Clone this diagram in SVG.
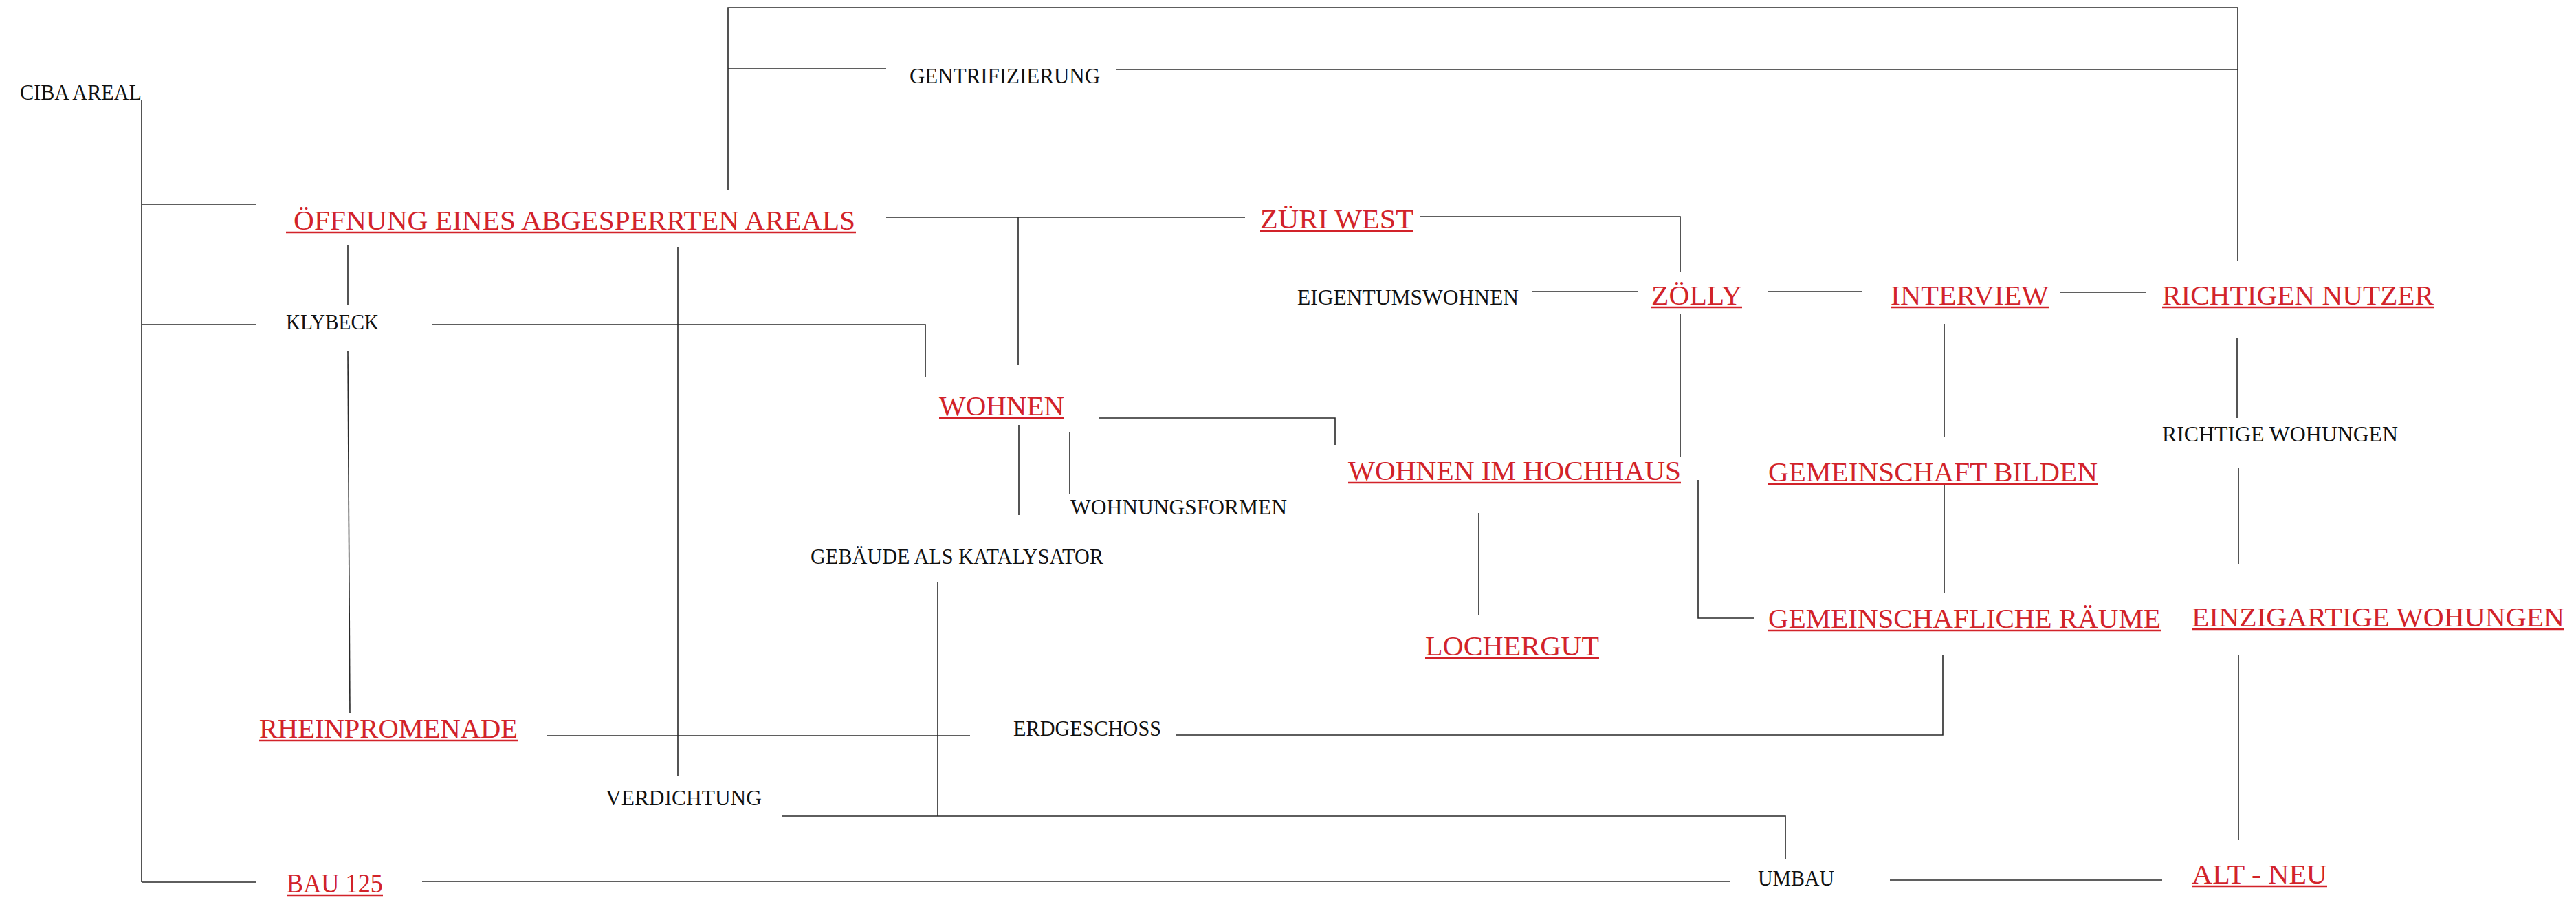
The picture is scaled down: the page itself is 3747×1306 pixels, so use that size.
<svg xmlns="http://www.w3.org/2000/svg" width="3747" height="1306" viewBox="0 0 3747 1306">
<style>
  text { font-family: "Liberation Serif", "Times New Roman", serif; }
  .b { font-size: 32px; fill: #111; }
  .r { font-size: 41px; fill: #d2232a; }
  .ul { stroke: #d2232a; stroke-width: 2.5; fill: none; }
  #connectors path { stroke: #2a2a2a; stroke-width: 1.6; fill: none; }
</style>
<rect x="0" y="0" width="3747" height="1306" fill="#ffffff"/>
<g id="connectors">
  <path d="M206 145 V1283 M206 297 H373 M206 472 H373 M206 1283 H373"/>
  <path d="M506 356 V443"/>
  <path d="M506 510 L509 1037"/>
  <path d="M986 359 V1128"/>
  <path d="M1059 277 V11 H3255 V380"/>
  <path d="M1059 100 H1289"/>
  <path d="M1624 101 H3255"/>
  <path d="M1289 316 H1811 M1481 316 V531"/>
  <path d="M2065 315 H2444 V395"/>
  <path d="M2228 424 H2383"/>
  <path d="M2572 424 H2708"/>
  <path d="M2996 425 H3122"/>
  <path d="M628 472 H1346 V548"/>
  <path d="M1482 618 V749"/>
  <path d="M1556 628 V718"/>
  <path d="M1598 608 H1942 V647"/>
  <path d="M2444 456 V664"/>
  <path d="M2470 698 V899 H2551"/>
  <path d="M2151 746 V894"/>
  <path d="M2828 471 V636"/>
  <path d="M2828 705 V862"/>
  <path d="M3254 491 V608"/>
  <path d="M3256 680 V820"/>
  <path d="M3256 953 V1221"/>
  <path d="M2826 953 V1069 H1710"/>
  <path d="M796 1070 H1411"/>
  <path d="M1364 847 V1187"/>
  <path d="M1138 1187 H2597 V1249"/>
  <path d="M614 1282 H2516"/>
  <path d="M2749 1280 H3145"/>
</g>
<g id="n-ciba"><text class="b" x="29" y="145" textLength="177" lengthAdjust="spacingAndGlyphs">CIBA AREAL</text></g>
<g id="n-gentrifizierung"><text class="b" x="1323" y="121" textLength="277" lengthAdjust="spacingAndGlyphs">GENTRIFIZIERUNG</text></g>
<g id="n-oeffnung"><text class="r" x="427" y="334" textLength="817" lengthAdjust="spacingAndGlyphs">ÖFFNUNG EINES ABGESPERRTEN AREALS</text><line class="ul" x1="416" y1="338" x2="1245" y2="338"/></g>
<g id="n-klybeck"><text class="b" x="416" y="479" textLength="135" lengthAdjust="spacingAndGlyphs">KLYBECK</text></g>
<g id="n-zuriwest"><text class="r" x="1833" y="332" textLength="223" lengthAdjust="spacingAndGlyphs">ZÜRI WEST</text><line class="ul" x1="1833" y1="336" x2="2056" y2="336"/></g>
<g id="n-eigentum"><text class="b" x="1887" y="443" textLength="322" lengthAdjust="spacingAndGlyphs">EIGENTUMSWOHNEN</text></g>
<g id="n-zolly"><text class="r" x="2402" y="443" textLength="132" lengthAdjust="spacingAndGlyphs">ZÖLLY</text><line class="ul" x1="2402" y1="447" x2="2534" y2="447"/></g>
<g id="n-interview"><text class="r" x="2750" y="443" textLength="230" lengthAdjust="spacingAndGlyphs">INTERVIEW</text><line class="ul" x1="2750" y1="447" x2="2980" y2="447"/></g>
<g id="n-richtigen-nutzer"><text class="r" x="3145" y="443" textLength="395" lengthAdjust="spacingAndGlyphs">RICHTIGEN NUTZER</text><line class="ul" x1="3145" y1="447" x2="3540" y2="447"/></g>
<g id="n-wohnen"><text class="r" x="1366" y="604" textLength="182" lengthAdjust="spacingAndGlyphs">WOHNEN</text><line class="ul" x1="1366" y1="608" x2="1548" y2="608"/></g>
<g id="n-wohnungsformen"><text class="b" x="1557" y="748" textLength="315" lengthAdjust="spacingAndGlyphs">WOHNUNGSFORMEN</text></g>
<g id="n-gebaeude"><text class="b" x="1179" y="820" textLength="426" lengthAdjust="spacingAndGlyphs">GEBÄUDE ALS KATALYSATOR</text></g>
<g id="n-hochhaus"><text class="r" x="1961" y="698" textLength="484" lengthAdjust="spacingAndGlyphs">WOHNEN IM HOCHHAUS</text><line class="ul" x1="1961" y1="702" x2="2445" y2="702"/></g>
<g id="n-gemeinschaft"><text class="r" x="2572" y="700" textLength="479" lengthAdjust="spacingAndGlyphs">GEMEINSCHAFT BILDEN</text><line class="ul" x1="2572" y1="704" x2="3051" y2="704"/></g>
<g id="n-richtige-wohungen"><text class="b" x="3145" y="642" textLength="343" lengthAdjust="spacingAndGlyphs">RICHTIGE WOHUNGEN</text></g>
<g id="n-raeume"><text class="r" x="2572" y="913" textLength="571" lengthAdjust="spacingAndGlyphs">GEMEINSCHAFLICHE RÄUME</text><line class="ul" x1="2572" y1="917" x2="3143" y2="917"/></g>
<g id="n-einzigartige"><text class="r" x="3188" y="911" textLength="542" lengthAdjust="spacingAndGlyphs">EINZIGARTIGE WOHUNGEN</text><line class="ul" x1="3188" y1="915" x2="3730" y2="915"/></g>
<g id="n-lochergut"><text class="r" x="2073" y="953" textLength="253" lengthAdjust="spacingAndGlyphs">LOCHERGUT</text><line class="ul" x1="2073" y1="957" x2="2326" y2="957"/></g>
<g id="n-rheinpromenade"><text class="r" x="377" y="1073" textLength="376" lengthAdjust="spacingAndGlyphs">RHEINPROMENADE</text><line class="ul" x1="377" y1="1077" x2="753" y2="1077"/></g>
<g id="n-erdgeschoss"><text class="b" x="1474" y="1070" textLength="215" lengthAdjust="spacingAndGlyphs">ERDGESCHOSS</text></g>
<g id="n-verdichtung"><text class="b" x="881" y="1171" textLength="227" lengthAdjust="spacingAndGlyphs">VERDICHTUNG</text></g>
<g id="n-bau125"><text class="r" x="417" y="1298" textLength="140" lengthAdjust="spacingAndGlyphs">BAU 125</text><line class="ul" x1="417" y1="1302" x2="557" y2="1302"/></g>
<g id="n-umbau"><text class="b" x="2557" y="1288" textLength="111" lengthAdjust="spacingAndGlyphs">UMBAU</text></g>
<g id="n-altneu"><text class="r" x="3188" y="1285" textLength="197" lengthAdjust="spacingAndGlyphs">ALT - NEU</text><line class="ul" x1="3188" y1="1289" x2="3385" y2="1289"/></g>
</svg>
